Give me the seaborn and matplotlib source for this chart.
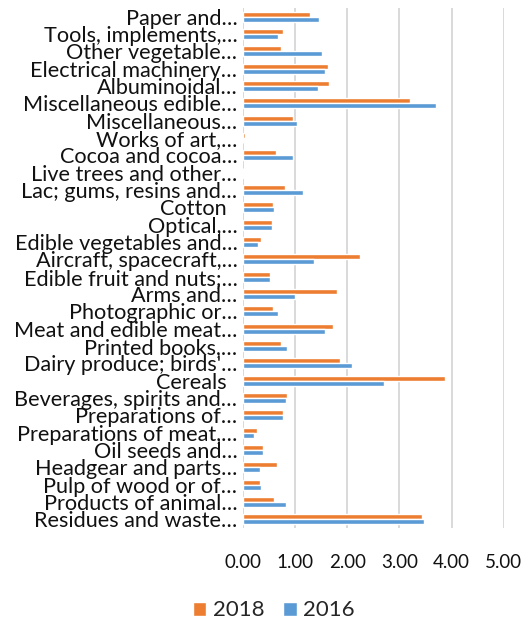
import matplotlib
matplotlib.use("Agg")
import matplotlib.pyplot as plt
import seaborn as sns
import pandas as pd

categories = [
    "Paper and…", "Tools, implements,…", "Other vegetable…", "Electrical machinery…",
    "Albuminoidal…", "Miscellaneous edible…", "Miscellaneous…", "Works of art,…",
    "Cocoa and cocoa…", "Live trees and other…", "Lac; gums, resins and…", "Cotton  ",
    "Optical,…", "Edible vegetables and…", "Aircraft, spacecraft,…", "Edible fruit and nuts;…",
    "Arms and…", "Photographic or…", "Meat and edible meat…", "Printed books,…",
    "Dairy produce; birds'…", "Cereals  ", "Beverages, spirits and…", "Preparations of…",
    "Preparations of meat,…", "Oil seeds and…", "Headgear and parts…", "Pulp of wood or of…",
    "Products of animal…", "Residues and waste…",
]
values_2018 = [1.29, 0.76, 0.73, 1.63, 1.64, 3.21, 0.96, 0.03, 0.63, 0.00, 0.80, 0.57,
               0.55, 0.34, 2.24, 0.51, 1.80, 0.57, 1.72, 0.72, 1.86, 3.88, 0.84, 0.77,
               0.26, 0.38, 0.65, 0.32, 0.60, 3.43]
values_2016 = [1.45, 0.67, 1.51, 1.57, 1.43, 3.70, 1.04, 0.00, 0.96, 0.02, 1.15, 0.59,
               0.55, 0.29, 1.37, 0.52, 1.00, 0.67, 1.57, 0.84, 2.10, 2.70, 0.82, 0.77,
               0.21, 0.38, 0.32, 0.35, 0.82, 3.47]
series = ["2018", "2016"]
x_ticks = [0, 1, 2, 3, 4, 5]

df = pd.DataFrame({
    "category": categories * 2,
    "value": values_2018 + values_2016,
    "year": [series[0]] * len(categories) + [series[1]] * len(categories),
})

sns.set_theme(style="white")
plt.rcParams["font.family"] = ["Lato", "DejaVu Sans"]

fig = plt.figure(figsize=(5.27, 6.24), dpi=100)
ax = fig.add_axes([243 / 527, 1 - 528 / 624, (503.7 - 243) / 527, 520 / 624])

palette = {"2018": "#ED7D31", "2016": "#5B9BD5"}
sns.barplot(data=df, x="value", y="category", hue="year", hue_order=series,
            order=categories, palette=palette, orient="h", width=0.56,
            saturation=1, errorbar=None, ax=ax, legend=True)

ax.set_xlim(0, 5)
ax.set_xticks(x_ticks)
ax.set_xticklabels([f"{t:.2f}" for t in x_ticks])
ax.set_xlabel("")
ax.set_ylabel("")
ax.set_axisbelow(True)
ax.grid(axis="x", color="#D9D9D9", linewidth=1.4)
ax.grid(axis="y", visible=False)
for s in ax.spines.values():
    s.set_visible(False)
ax.tick_params(axis="y", length=0, pad=4, labelsize=15.6, labelcolor="#111111")
ax.tick_params(axis="x", length=0, pad=19, labelsize=13.5, labelcolor="#111111")

handles, labels = ax.get_legend_handles_labels()
ax.get_legend().remove()
fig.legend(handles, labels, loc="center", bbox_to_anchor=(274 / 527, 1 - 610.5 / 624),
           ncol=2, frameon=False, fontsize=16, handlelength=0.6, handleheight=0.6,
           handletextpad=0.3, columnspacing=0.85)

fig.savefig("out.png", dpi=100)
